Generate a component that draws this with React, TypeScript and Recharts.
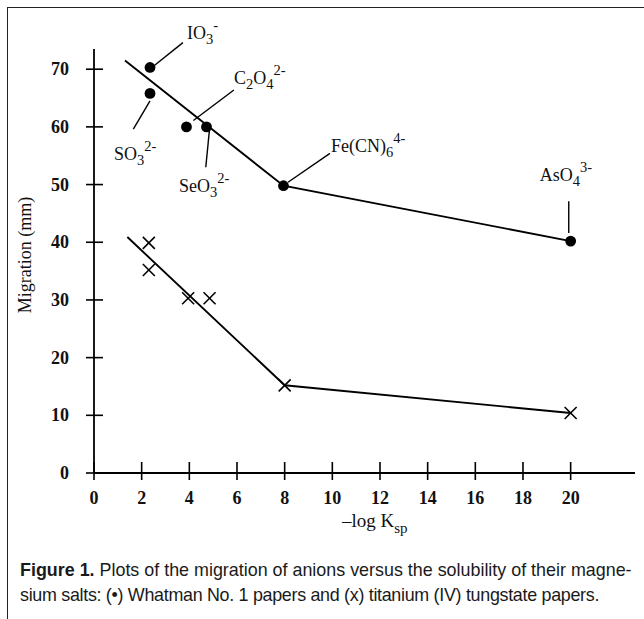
import React from 'react';
import { ScatterChart, Scatter, XAxis, YAxis, ReferenceLine, ReferenceDot } from 'recharts';

// measured points, -log Ksp vs migration (mm)
const whatmanX = [2.35, 2.35, 3.88, 4.72, 7.95, 20];
const whatmanY = [70.3, 65.8, 60, 60, 49.8, 40.2];
const titaniumX = [2.3, 2.3, 3.95, 4.85, 8, 20];
const titaniumY = [39.9, 35.2, 30.3, 30.3, 15.2, 10.4];

// hand drawn fit lines
const whatmanFitX = [1.3, 7.95, 20];
const whatmanFitY = [71.5, 49.8, 40.2];
const titaniumFitX = [1.4, 8, 20];
const titaniumFitY = [40.9, 15.2, 10.4];

const xTicks = [0, 2, 4, 6, 8, 10, 12, 14, 16, 18, 20];
const yTicks = [0, 10, 20, 30, 40, 50, 60, 70];

const ionNames = ['IO3-', 'SO32-', 'C2O42-', 'SeO32-', 'Fe(CN)64-', 'AsO43-'];

type Part = [string, ('sub' | 'sup')?];
const ionParts: Part[][] = [
  [['IO'], ['3', 'sub'], ['-', 'sup']],
  [['SO'], ['3', 'sub'], ['2-', 'sup']],
  [['C'], ['2', 'sub'], ['O'], ['4', 'sub'], ['2-', 'sup']],
  [['SeO'], ['3', 'sub'], ['2-', 'sup']],
  [['Fe(CN)'], ['6', 'sub'], ['4-', 'sup']],
  [['AsO'], ['4', 'sub'], ['3-', 'sup']],
];

// label placement (left edge / baseline) and leader lines, in axis units
const labelAt = [
  { x: 3.9, y: 75.3 },
  { x: 0.84, y: 54.2 },
  { x: 5.87, y: 67.5 },
  { x: 3.57, y: 48.7 },
  { x: 9.94, y: 55.6 },
  { x: 18.7, y: 50.7 },
];
const leaders = [
  [{ x: 2.52, y: 70.6 }, { x: 3.73, y: 74.6 }],
  [{ x: 1.65, y: 59.6 }, { x: 2.35, y: 64.5 }],
  [{ x: 4.17, y: 61.1 }, { x: 5.87, y: 66.4 }],
  [{ x: 4.69, y: 53.0 }, { x: 4.84, y: 59.3 }],
  [{ x: 8.14, y: 50.4 }, { x: 9.9, y: 55.4 }],
  [{ x: 19.92, y: 47.1 }, { x: 19.92, y: 41.6 }],
];

const zip = (xs: number[], ys: number[]) => xs.map((x, i) => ({ x, y: ys[i] }));

const whatman = zip(whatmanX, whatmanY);
const titanium = zip(titaniumX, titaniumY);
const whatmanFit = zip(whatmanFitX, whatmanFitY);
const titaniumFit = zip(titaniumFitX, titaniumFitY);

const serif = '"Liberation Serif", "DejaVu Serif", serif';
const sans = '"Liberation Sans", Arial, sans-serif';

const Formula = ({ x, y, parts }: { x: number; y: number; parts: Part[] }) => {
  let cur = 0;
  return (
    <text x={x} y={y} fontFamily={serif} fontSize={18} fill="#111">
      {parts.map(([t, k], i) => {
        const target = k === 'sub' ? 5 : k === 'sup' ? -9 : 0;
        const dy = target - cur;
        cur = target;
        return (
          <tspan key={i} dy={dy} fontSize={k ? 14.5 : 18}>
            {t}
          </tspan>
        );
      })}
    </text>
  );
};

const Dot = (p: any) => <circle cx={p.cx} cy={p.cy} r={5.4} fill="#000" />;
const Cross = (p: any) => (
  <g stroke="#000" strokeWidth={1.6}>
    <line x1={p.cx - 6} y1={p.cy - 6} x2={p.cx + 6} y2={p.cy + 6} />
    <line x1={p.cx - 6} y1={p.cy + 6} x2={p.cx + 6} y2={p.cy - 6} />
  </g>
);
const NoShape = () => <g />;

const YTick = (p: any) => (
  <g>
    <line x1={p.x - 8} y1={p.y} x2={p.x + 9} y2={p.y} stroke="#000" strokeWidth={1.6} />
    <text x={p.x - 25} y={p.y + 6} textAnchor="end" fontFamily={serif} fontWeight="bold" fontSize={18} fill="#111">
      {p.payload.value}
    </text>
  </g>
);
const XTick = (p: any) => (
  <g>
    <line x1={p.x} y1={p.y - 11} x2={p.x} y2={p.y + 7} stroke="#000" strokeWidth={1.6} />
    <text x={p.x} y={p.y + 31} textAnchor="middle" fontFamily={serif} fontWeight="bold" fontSize={18} fill="#111">
      {p.payload.value}
    </text>
  </g>
);

// the axis titles are drawn at fixed spots relative to the axis box
const XTitle = (p: any) => {
  const vb = p.viewBox;
  return (
    <text x={vb.x + 248} y={vb.y + 54} fontFamily={serif} fontSize={19} fill="#111">
      –log K<tspan dy={6} fontSize={15}>sp</tspan>
    </text>
  );
};
const YTitle = (p: any) => {
  const vb = p.viewBox;
  const cx = vb.x + vb.width - 63;
  const cy = 255;
  return (
    <text x={cx} y={cy} transform={`rotate(-90 ${cx} ${cy})`} textAnchor="middle" fontFamily={serif} fontSize={18} fill="#111">
      Migration (mm)
    </text>
  );
};

export default function App() {
  return (
    <div style={{ position: 'absolute', left: 0, top: 0, width: 644, height: 619, overflow: 'hidden', background: '#fff' }}>
      <div
        style={{
          position: 'absolute',
          left: 7,
          top: 7,
          width: 640,
          height: 640,
          border: '1.5px solid #222',
          boxSizing: 'border-box',
        }}
      />
      <div style={{ position: 'absolute', left: 0, top: 0 }}>
        <ScatterChart width={644} height={540} margin={{ top: 49, right: 9, bottom: 7, left: 14 }}>
          <XAxis
            type="number"
            dataKey="x"
            domain={[0, 22.7]}
            ticks={xTicks}
            allowDataOverflow
            height={60}
            tickSize={0}
            tickMargin={0}
            tickLine={false}
            tick={<XTick />}
            axisLine={{ stroke: '#000', strokeWidth: 1.8 }}
            label={{ content: <XTitle /> }}
          />
          <YAxis
            type="number"
            dataKey="y"
            domain={[0, 73.5]}
            ticks={yTicks}
            allowDataOverflow
            width={80}
            tickSize={0}
            tickMargin={0}
            tickLine={false}
            tick={<YTick />}
            axisLine={{ stroke: '#000', strokeWidth: 1.8 }}
            label={{ content: <YTitle /> }}
          />
          <Scatter
            name="whatman fit"
            data={whatmanFit}
            line={{ stroke: '#000', strokeWidth: 1.9 }}
            lineType="joint"
            shape={NoShape}
            isAnimationActive={false}
          />
          <Scatter
            name="titanium fit"
            data={titaniumFit}
            line={{ stroke: '#000', strokeWidth: 1.9 }}
            lineType="joint"
            shape={NoShape}
            isAnimationActive={false}
          />
          {leaders.map((seg, i) => (
            <ReferenceLine key={'l' + i} segment={seg} stroke="#000" strokeWidth={1.4} ifOverflow="visible" />
          ))}
          {labelAt.map((pos, i) => (
            <ReferenceDot
              key={ionNames[i]}
              x={pos.x}
              y={pos.y}
              r={0}
              ifOverflow="visible"
              shape={(p: any) => <Formula x={p.cx} y={p.cy} parts={ionParts[i]} />}
            />
          ))}
          <Scatter name="Whatman No. 1" data={whatman} shape={Dot} isAnimationActive={false} />
          <Scatter name="titanium (IV) tungstate" data={titanium} shape={Cross} isAnimationActive={false} />
        </ScatterChart>
      </div>
      <svg width={644} height={69} style={{ position: 'absolute', left: 0, top: 550 }}>
        <text x={20} y={26} fontFamily={sans} fontSize={17.9} fill="#1a1a1a">
          <tspan fontWeight="bold">Figure 1.</tspan> Plots of the migration of anions versus the solubility of their magne-
        </text>
        <text x={20} y={51} fontFamily={sans} fontSize={17.9} letterSpacing={-0.3} fill="#1a1a1a">
          sium salts: (•) Whatman No. 1 papers and (x) titanium (IV) tungstate papers.
        </text>
      </svg>
    </div>
  );
}
